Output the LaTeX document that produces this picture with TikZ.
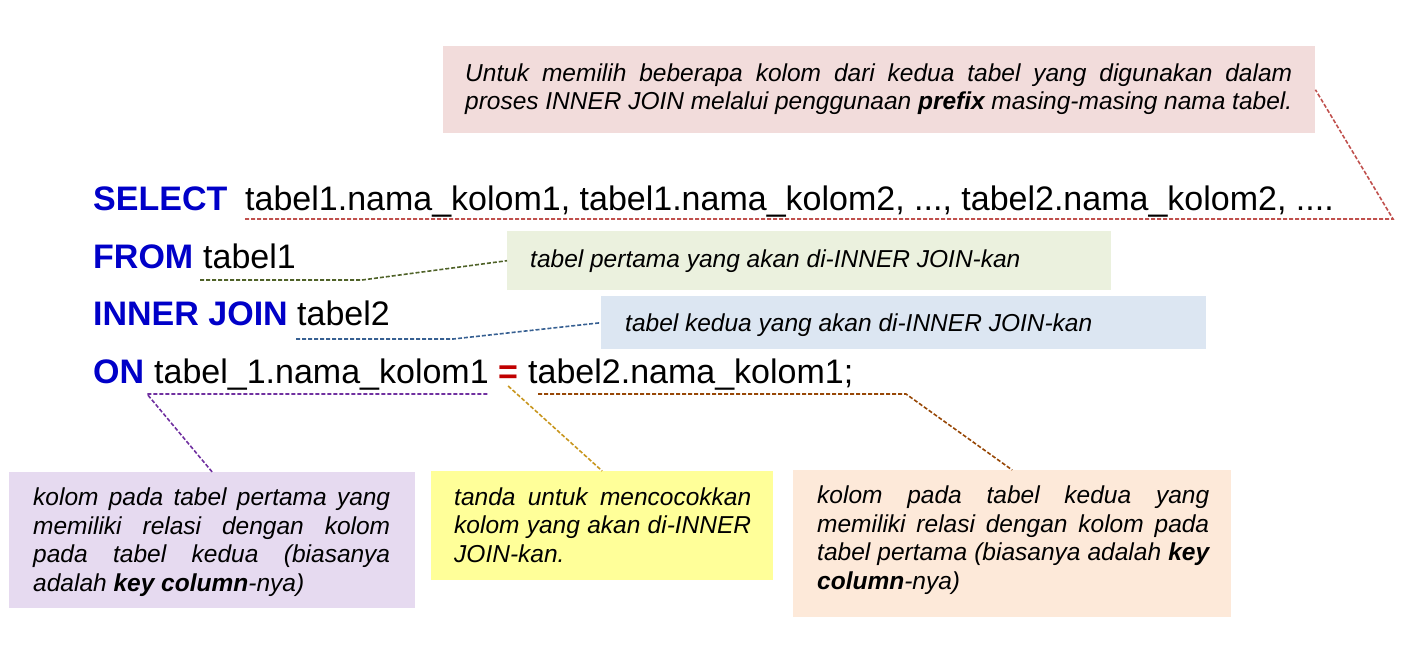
\documentclass[tikz,border=0pt]{standalone}
\usepackage{fontspec}
\setmainfont{Liberation Sans}
\hyphenpenalty=10000
\exhyphenpenalty=10000

% keyword and annotation colours
\definecolor{kwblue}{RGB}{0,0,200}
\definecolor{eqred}{RGB}{192,0,0}
\definecolor{redc}{RGB}{192,80,77}
\definecolor{greenc}{RGB}{79,98,40}
\definecolor{bluec}{RGB}{55,96,146}
\definecolor{purplec}{RGB}{112,48,160}
\definecolor{goldc}{RGB}{200,150,30}
\definecolor{brownc}{RGB}{151,71,6}
\definecolor{pinkfill}{RGB}{242,220,219}
\definecolor{greenfill}{RGB}{235,241,222}
\definecolor{bluefill}{RGB}{220,230,242}
\definecolor{purplefill}{RGB}{230,218,240}
\definecolor{yellowfill}{RGB}{255,255,153}
\definecolor{peachfill}{RGB}{253,233,217}

\begin{document}
\begin{tikzpicture}[x=1pt,y=-1pt,
  code/.style={font=\fontsize{34}{40}\selectfont, inner sep=0pt, anchor=base west},
  kw/.style={code, font=\fontsize{34}{40}\selectfont\bfseries, text=kwblue},
  note/.style={font=\fontsize{24.5}{28.6}\selectfont\itshape, inner sep=0pt, anchor=base west, align=justify},
  notebox/.style={inner sep=0pt, anchor=north west},
  lead/.style={dash pattern=on 4pt off 2pt, line width=1.6pt}]
\useasboundingbox (0,0) rectangle (1404,646);

% annotation boxes
\node[notebox, fill=pinkfill,   minimum width=872pt, minimum height=87pt]  (topbox)    at (443,46)  {};
\node[notebox, fill=greenfill,  minimum width=604pt, minimum height=59pt]  (greenbox)  at (507,231) {};
\node[notebox, fill=bluefill,   minimum width=605pt, minimum height=53pt]  (bluebox)   at (601,296) {};
\node[notebox, fill=purplefill, minimum width=406pt, minimum height=136pt] (purplebox) at (9,472)   {};
\node[notebox, fill=yellowfill, minimum width=342pt, minimum height=109pt] (yellowbox) at (431,471) {};
\node[notebox, fill=peachfill,  minimum width=438pt, minimum height=147pt] (peachbox)  at (793,470) {};

% annotation texts
\node[note, text width=827pt] (toptext) at (465,81)
  {Untuk memilih beberapa kolom dari kedua tabel yang digunakan dalam\linebreak
   proses INNER JOIN melalui penggunaan \textbf{prefix} masing-masing nama tabel.};
\node[note] (greentext) at (530,267.5) {tabel pertama yang akan di-INNER JOIN-kan};
\node[note] (bluetext) at (625,331) {tabel kedua yang akan di-INNER JOIN-kan};
\node[note, text width=357pt] (purpletext) at (33,505.5)
  {kolom pada tabel pertama yang\linebreak
   memiliki relasi dengan kolom\linebreak
   pada tabel kedua (biasanya\linebreak
   adalah \textbf{key column}-nya)};
\node[note, text width=297pt] (yellowtext) at (454,505)
  {tanda untuk mencocokkan\linebreak
   kolom yang akan di-INNER\linebreak
   JOIN-kan.};
\node[note, text width=392pt] (peachtext) at (817,503.5)
  {kolom pada tabel kedua yang\linebreak
   memiliki relasi dengan kolom pada\linebreak
   tabel pertama (biasanya adalah \textbf{key}\linebreak
   \textbf{column}-nya)};

% the SQL statement
\node[kw]   (selkw)   at (93,210)  {SELECT};
\node[code] (selcols) at (245,210) {tabel1.nama\_kolom1, tabel1.nama\_kolom2, ..., tabel2.nama\_kolom2, ....};
\node[kw]   (fromkw)  at (93,268)  {FROM};
\node[code] (fromtbl) at (203,268) {tabel1};
\node[kw]   (joinkw)  at (93,325)  {INNER JOIN};
\node[code] (jointbl) at (297,325) {tabel2};
\node[kw]   (onkw)    at (93,383)  {ON};
\node[code] (oncolA)  at (154,383) {tabel\_1.nama\_kolom1};
\node[code, font=\fontsize{34}{40}\selectfont\bfseries, text=eqred] (eq) at (498,383) {=};
\node[code] (oncolB)  at (528,383) {tabel2.nama\_kolom1;};

% corner points of the leader lines
\coordinate (selend)   at (1393,219);
\coordinate (fromknee) at (362,280);
\coordinate (joinknee) at (453,339);
\coordinate (onknee)   at (147,394);
\coordinate (colBknee) at (906,394);

% leader lines
\draw[lead, redc]    ([yshift=-9pt]selcols.base west) -- (selend) -- (topbox.east);
\draw[lead, greenc]  ([shift={(-3pt,-12pt)}]fromtbl.base west) -- (fromknee) -- (greenbox.west);
\draw[lead, bluec]   ([shift={(-1pt,-14pt)}]jointbl.base west) -- (joinknee) -- (bluebox.west);
\draw[lead, purplec] ([shift={(-1.5pt,-11pt)}]oncolA.base east) -- (onknee) -- (purplebox.north);
\draw[lead, goldc]   ([yshift=-3pt]eq.base) -- (yellowbox.north);
\draw[lead, brownc]  ([shift={(10pt,-11pt)}]oncolB.base west) -- (colBknee) -- (peachbox.north);
\end{tikzpicture}
\end{document}
